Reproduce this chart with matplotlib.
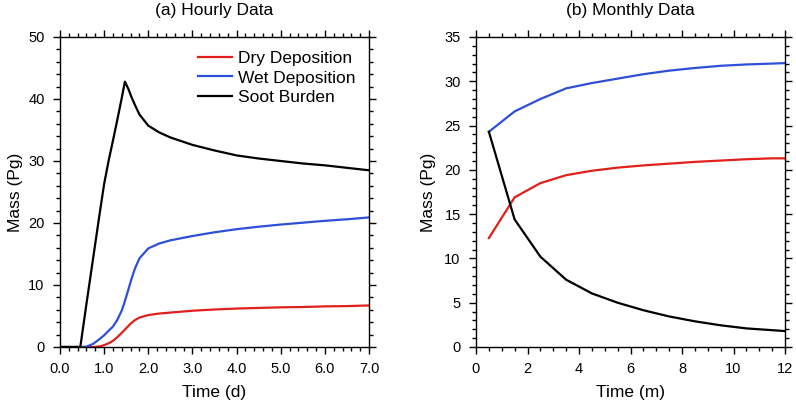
import matplotlib
matplotlib.use("Agg")
import matplotlib.pyplot as plt
from matplotlib.ticker import MultipleLocator, FormatStrFormatter

plt.rcParams['font.family'] = ['Liberation Sans', 'DejaVu Sans']

# (a) hourly data, time in days
hours_t = [0, 0.25, 0.46, 0.6, 0.75, 0.9, 1.0, 1.1, 1.2, 1.3, 1.4, 1.47, 1.55, 1.62,
           1.7, 1.8, 2.0, 2.25, 2.5, 3.0, 3.5, 4.0, 4.5, 5.0, 5.5, 6.0, 6.5, 7.0]
dry_h = [0, 0, 0, 0, 0, 0.1, 0.3, 0.6, 1.0, 1.6, 2.3, 2.8, 3.4, 3.9,
         4.35, 4.75, 5.15, 5.4, 5.55, 5.85, 6.05, 6.2, 6.3, 6.4, 6.45, 6.55, 6.6, 6.7]
wet_h = [0, 0, 0, 0.05, 0.5, 1.3, 1.9, 2.6, 3.3, 4.4, 5.9, 7.4, 9.3, 11.0,
         12.7, 14.3, 15.9, 16.7, 17.2, 17.9, 18.5, 19.0, 19.4, 19.75, 20.05, 20.35, 20.6, 20.9]
soot_h = [0, 0, 0, 7.0, 14.3, 21.6, 26.3, 30.0, 33.3, 36.7, 40.2, 42.8, 41.6, 40.3,
          39.0, 37.5, 35.7, 34.6, 33.8, 32.6, 31.7, 30.9, 30.4, 30.0, 29.6, 29.3, 28.9, 28.5]

# (b) monthly data, time in months
months = [0.5, 1.5, 2.5, 3.5, 4.5, 5.5, 6.5, 7.5, 8.5, 9.5, 10.5, 11.5, 12.0]
dry_m = [12.3, 16.9, 18.5, 19.4, 19.9, 20.25, 20.5, 20.7, 20.9, 21.05, 21.2, 21.3, 21.3]
wet_m = [24.3, 26.6, 28.0, 29.2, 29.8, 30.3, 30.8, 31.2, 31.5, 31.75, 31.9, 32.0, 32.05]
soot_m = [24.3, 14.4, 10.2, 7.6, 6.05, 5.0, 4.15, 3.45, 2.9, 2.45, 2.1, 1.9, 1.8]

labels = ['Dry Deposition', 'Wet Deposition', 'Soot Burden']
colors = ['#e0201b', '#2f4fd8', 'black']

fig = plt.figure(figsize=(7.96, 4.03), dpi=100)
ax1 = fig.add_axes([60/796, 56/403, 309/796, 310/403])
ax2 = fig.add_axes([476/796, 56/403, 309/796, 310/403])


def style_axes(ax, xmaj, xmin, ymaj, ymin):
    ax.xaxis.set_major_locator(MultipleLocator(xmaj))
    ax.xaxis.set_minor_locator(MultipleLocator(xmin))
    ax.yaxis.set_major_locator(MultipleLocator(ymaj))
    ax.yaxis.set_minor_locator(MultipleLocator(ymin))
    ax.tick_params(which='both', direction='out', top=True, right=True,
                   width=1.0, labelsize=10.5)
    ax.tick_params(which='major', length=5, pad=6)
    ax.tick_params(which='minor', length=3)
    for s in ax.spines.values():
        s.set_linewidth(1.0)


for y, c, lab in zip([dry_h, wet_h, soot_h], colors, labels):
    ax1.plot(hours_t, y, color=c, lw=1.6, label=lab)
ax1.set_xlim(0, 7)
ax1.set_ylim(0, 50)
style_axes(ax1, 1, 0.2, 10, 2)
ax1.xaxis.set_major_formatter(FormatStrFormatter('%.1f'))
ax1.set_xlabel('Time (d)', fontsize=12.5, labelpad=6)
ax1.set_ylabel('Mass (Pg)', fontsize=12.5, labelpad=4)
ax1.set_title('(a) Hourly Data', fontsize=12.5, pad=16)
ax1.legend(loc='upper right', frameon=False, fontsize=12.5, handlelength=2.0,
           handletextpad=0.3, labelspacing=0.25, borderaxespad=0.4,
           bbox_to_anchor=(1.0, 1.0))

for y, c in zip([dry_m, wet_m, soot_m], colors):
    ax2.plot(months, y, color=c, lw=1.6)
ax2.set_xlim(0, 12)
ax2.set_ylim(0, 35)
style_axes(ax2, 2, 0.5, 5, 1)
ax2.set_xlabel('Time (m)', fontsize=12.5, labelpad=6)
ax2.set_ylabel('Mass (Pg)', fontsize=12.5, labelpad=6)
ax2.set_title('(b) Monthly Data', fontsize=12.5, pad=16)

fig.savefig('out.png', dpi=100)
